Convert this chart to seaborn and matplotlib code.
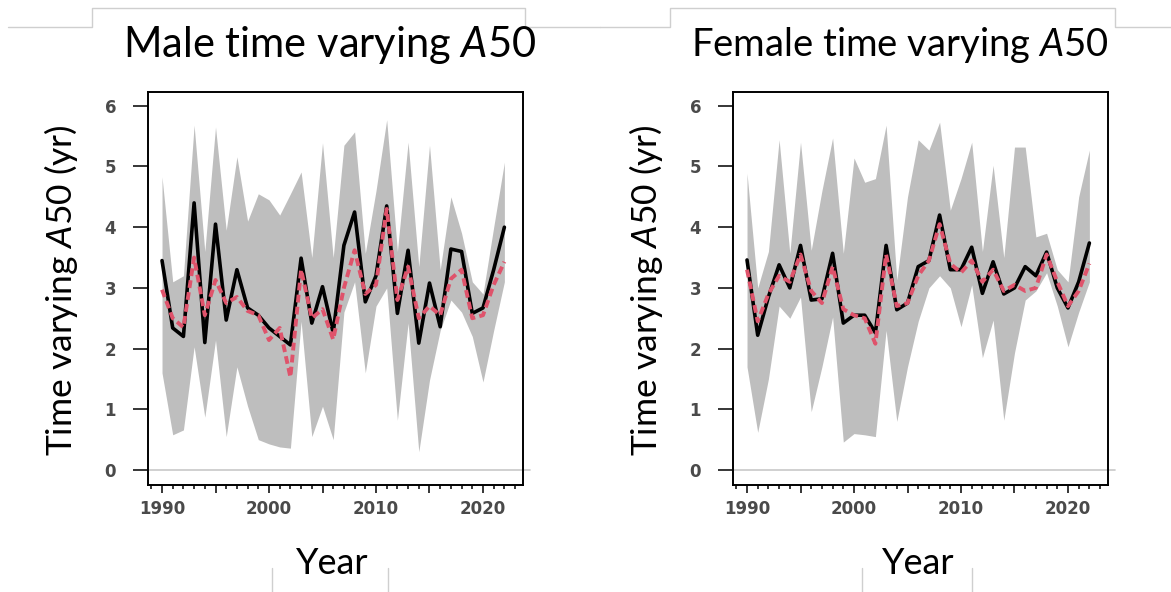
import matplotlib
matplotlib.use("Agg")
import matplotlib.pyplot as plt
from matplotlib.lines import Line2D
from matplotlib.ticker import MultipleLocator
import pandas as pd
import seaborn as sns

# ---- data -------------------------------------------------------------
years = list(range(1990, 2023))

male_est = [3.45, 2.34, 2.20, 4.40, 2.10, 4.05, 2.47, 3.30, 2.67, 2.55,
            2.34, 2.20, 2.06, 3.49, 2.42, 3.02, 2.26, 3.70, 4.25, 2.77,
            3.20, 4.35, 2.58, 3.62, 2.09, 3.08, 2.36, 3.64, 3.60, 2.58,
            2.67, 3.30, 4.00]
male_base = [2.97, 2.50, 2.35, 3.50, 2.55, 3.13, 2.75, 2.85, 2.62, 2.55,
             2.14, 2.34, 1.53, 3.30, 2.50, 2.65, 2.15, 3.00, 3.62, 2.90,
             3.05, 4.30, 2.80, 3.35, 2.50, 2.70, 2.55, 3.15, 3.30, 2.50,
             2.55, 3.05, 3.43]
male_hi = [4.83, 3.10, 3.20, 5.68, 3.60, 5.65, 3.95, 5.16, 4.10, 4.55,
           4.45, 4.20, 4.55, 4.91, 3.50, 5.39, 3.50, 5.35, 5.57, 3.57,
           4.60, 5.77, 3.60, 5.40, 3.35, 5.35, 3.30, 4.50, 3.90, 3.10,
           2.90, 4.00, 5.07]
male_lo = [1.60, 0.58, 0.66, 2.03, 0.87, 2.14, 0.55, 1.70, 1.05, 0.50,
           0.43, 0.38, 0.36, 2.45, 0.55, 1.05, 0.50, 2.60, 3.10, 1.60,
           2.70, 3.00, 0.82, 2.42, 0.30, 1.48, 2.30, 2.80, 2.60, 2.20,
           1.45, 2.30, 3.10]

female_est = [3.46, 2.22, 2.85, 3.38, 3.00, 3.70, 2.80, 2.82, 3.57, 2.42,
              2.55, 2.55, 2.26, 3.70, 2.64, 2.75, 3.35, 3.45, 4.20, 3.30,
              3.30, 3.67, 2.91, 3.43, 2.90, 3.00, 3.35, 3.20, 3.59, 3.00,
              2.67, 3.10, 3.74]
female_base = [3.30, 2.45, 2.90, 3.20, 3.10, 3.55, 2.95, 2.75, 3.35, 2.65,
               2.55, 2.50, 2.08, 3.55, 2.70, 2.75, 3.20, 3.45, 4.05, 3.40,
               3.25, 3.45, 3.10, 3.30, 2.95, 3.05, 2.95, 3.00, 3.55, 3.10,
               2.70, 2.95, 3.40]
female_hi = [4.89, 3.00, 3.60, 5.44, 3.57, 5.40, 3.62, 4.60, 5.47, 3.57,
             5.14, 4.74, 4.80, 5.68, 3.13, 4.50, 5.44, 5.27, 5.73, 4.28,
             4.80, 5.40, 3.60, 5.02, 3.50, 5.32, 5.32, 3.84, 3.90, 3.30,
             3.10, 4.50, 5.27]
female_lo = [1.70, 0.62, 1.50, 2.70, 2.50, 2.85, 0.96, 1.70, 2.52, 0.46,
             0.60, 0.58, 0.55, 2.30, 0.80, 1.70, 2.45, 3.00, 3.20, 3.00,
             2.36, 3.05, 1.85, 2.47, 0.82, 1.93, 2.80, 2.95, 3.25, 2.70,
             2.03, 2.60, 3.10]

x_ticks = [1990, 1995, 2000, 2005, 2010, 2015, 2020]
x_tick_labels = ["1990", "", "2000", "", "2010", "", "2020"]
y_ticks = [0, 1, 2, 3, 4, 5, 6]

titles = ["Male time varying $\\mathit{A50}$",
          "Female time varying $\\mathit{A50}$"]
y_label = "Time varying $\\mathit{A50}$ (yr)"
x_label = "Year"

# ---- style ------------------------------------------------------------
sns.set_theme(style="white")
plt.rcParams["font.family"] = ["Lato", "DejaVu Sans"]
plt.rcParams["mathtext.fontset"] = "custom"
plt.rcParams["mathtext.rm"] = "Lato"
plt.rcParams["mathtext.it"] = "Lato:italic"

W, H = 1171, 592
fig = plt.figure(figsize=(W / 100, H / 100), dpi=100)
fig.patch.set_facecolor("white")


def rect(x0, y0, x1, y1):
    return [x0 / W, 1 - y1 / H, (x1 - x0) / W, (y1 - y0) / H]


def fig_line(xs, ys, color="#cfcfcf", lw=1.0):
    fig.add_artist(Line2D([x / W for x in xs], [1 - y / H for y in ys],
                          transform=fig.transFigure, color=color, lw=lw))


# slide tab outlines around the two titles
fig_line([8, 92, 92, 525, 525, 600], [27, 27, 8, 8, 27, 27])
fig_line([600, 670, 670, 1115, 1115, 1171], [27, 27, 8, 8, 27, 27])
for xv in (272, 388, 862, 972):
    fig_line([xv, xv], [568, 592])

panels = [
    (male_est, male_base, male_lo, male_hi, 148, titles[0], 330, 30, 61, 332),
    (female_est, female_base, female_lo, female_hi, 733, titles[1], 900, 27.5,
     646, 918),
]

for est, base, lo, hi, x0, title, tx, tsize, ylx, xlx in panels:
    ax = fig.add_axes(rect(x0, 92, x0 + 375, 485))
    df = pd.DataFrame({"year": years, "est": est, "base": base,
                       "lo": lo, "hi": hi})

    ax.fill_between(df["year"], df["lo"], df["hi"], color="#bebebe", lw=0,
                    zorder=1)
    ax.plot([1988.69, 2024.4], [0, 0], color="#c8c8c8", lw=1.2, zorder=1.5,
            clip_on=False)
    sns.lineplot(data=df, x="year", y="est", color="black", lw=2.6, ax=ax,
                 zorder=3)
    sns.lineplot(data=df, x="year", y="base", color="#df536b", lw=2.8, ax=ax,
                 linestyle=(0, (2.0, 1.1)), zorder=4)

    ax.set_xlim(1988.69, 2023.74)
    ax.set_ylim(-0.247, 6.227)
    ax.set_xlabel("")
    ax.set_ylabel("")
    ax.set_facecolor("white")
    for sp in ax.spines.values():
        sp.set_visible(True)
        sp.set_color("black")
        sp.set_linewidth(1.4)

    ax.set_xticks(x_ticks)
    ax.set_xticklabels(x_tick_labels)
    ax.xaxis.set_minor_locator(MultipleLocator(1))
    ax.set_yticks(y_ticks)
    ax.set_yticklabels([str(v) for v in y_ticks])
    ax.tick_params(axis="x", which="major", direction="out", length=6,
                   width=1.1, color="black", pad=5, bottom=True)
    ax.tick_params(axis="x", which="minor", direction="out", length=3,
                   width=1.1, color="black", bottom=True)
    ax.tick_params(axis="y", which="major", direction="out", length=11,
                   width=1.1, color="black", pad=12, left=True)
    for lab in ax.get_xticklabels() + ax.get_yticklabels():
        lab.set_fontfamily("DejaVu Sans")
        lab.set_fontsize(12)
        lab.set_color("#4a4a4a")
        lab.set_fontweight("bold")

    fig.text(tx / W, 1 - 45 / H, title, ha="center", va="center",
             fontsize=tsize, color="black")
    fig.text(ylx / W, 1 - 290 / H, y_label, rotation=90, ha="center",
             va="center", fontsize=25.5, color="black")
    fig.text(xlx / W, 1 - 563 / H, x_label, ha="center", va="center",
             fontsize=26, color="black")

fig.savefig("out.png", dpi=100, facecolor="white")
